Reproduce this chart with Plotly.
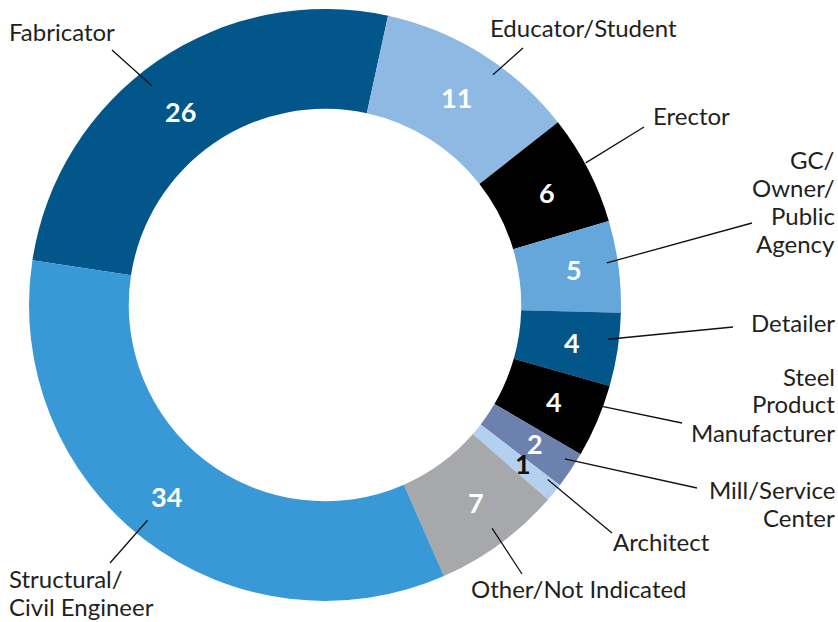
import math
import plotly.graph_objects as go

# ---- data ----
categories = ["Fabricator", "Educator/Student", "Erector", "GC/Owner/Public Agency",
              "Detailer", "Steel Product Manufacturer", "Mill/Service Center",
              "Architect", "Other/Not Indicated", "Structural/Civil Engineer"]
values = [26, 11, 6, 5, 4, 4, 2, 1, 7, 34]
label_lines = [["Fabricator"], ["Educator/Student"], ["Erector"],
               ["GC/", "Owner/", "Public", "Agency"], ["Detailer"],
               ["Steel", "Product", "Manufacturer"], ["Mill/Service", "Center"],
               ["Architect"], ["Other/Not Indicated"], ["Structural/", "Civil Engineer"]]

# ---- style ----
colors = ["#02568A", "#8DB9E3", "#000000", "#65A7DB", "#02568A", "#000000",
          "#6C81AE", "#B3D1EE", "#A7A8AB", "#3899D6"]
num_colors = ["white"] * 6 + ["white", "#111111", "white", "white"]
W, H = 838, 622
CX, CY, R = 325, 305, 296
HOLE = 0.663
ROT = -81.3  # degrees clockwise from 12 o'clock where the first slice starts
LINE_GAP = 28

# small manual nudges of the value labels (px)
num_nudge = [(-4, 11), (0, 3), (2, 1), (3, -3), (2, 0), (1, -1), (4, 0), (6, 1), (4, -2), (-7, -5)]
# leader-line start: radius (px) and angle offset from slice middle (deg)
line_start = [(279, -3.8), (285, 4.0), (297, -1.3), (285, -1.0), (285, -1.8), (295, -3.0),
              (285, -1.2), (283, -1.2), (279, -0.5), (279, 2.0)]
# label anchor (px, first-line middle), xanchor, and leader-line end (px)
label_pos = [(7, 31, "left"), (488, 28, "left"), (651, 115, "left"), (837, 159, "right"),
             (837, 322, "right"), (837, 376, "right"), (837, 489, "right"),
             (611, 541, "left"), (469, 588, "left"), (7, 578, "left")]
line_end = [(112, 50), (523, 48), (644, 127), (752, 223), (733, 327), (682, 423),
            (697, 488), (612, 533), (522, 574), (110, 563)]

FONT = "Lato, 'Open Sans', sans-serif"


def px2paper(x, y):
    return x / W, 1 - y / H


fig = go.Figure(go.Pie(
    labels=categories, values=values, hole=HOLE, sort=False,
    direction="clockwise", rotation=ROT,
    marker=dict(colors=colors, line=dict(width=0)),
    textinfo="none", hoverinfo="label+value", showlegend=False,
    domain=dict(x=[(CX - R) / W, (CX + R) / W],
                y=[(H - CY - R) / H, (H - CY + R) / H]),
))

total = sum(values)
annotations = []
shapes = []
cum = 0.0
for i, v in enumerate(values):
    mid = ROT + (cum + v / 2) / total * 360.0
    cum += v
    a = math.radians(mid)
    # value label at middle of ring
    rm = R * (1 + HOLE) / 2 + 2
    xm = CX + rm * math.sin(a) + num_nudge[i][0]
    ym = CY - rm * math.cos(a) + num_nudge[i][1]
    px, py = px2paper(xm, ym)
    annotations.append(dict(x=px, y=py, xref="paper", yref="paper", text=str(v),
                            showarrow=False, xanchor="center", yanchor="middle",
                            font=dict(family=FONT, size=27, color=num_colors[i], weight="bold")))
    # leader line
    rs, da = line_start[i]
    b = math.radians(mid + da)
    xs, ys = CX + rs * math.sin(b), CY - rs * math.cos(b)
    x0, y0 = px2paper(xs, ys)
    x1, y1 = px2paper(*line_end[i])
    shapes.append(dict(type="line", xref="paper", yref="paper", x0=x0, y0=y0, x1=x1, y1=y1,
                       line=dict(color="#111111", width=1.3)))
    lx, ly, anc = label_pos[i]
    for k, line in enumerate(label_lines[i]):
        lpx, lpy = px2paper(lx, ly + k * LINE_GAP)
        annotations.append(dict(x=lpx, y=lpy, xref="paper", yref="paper", text=line,
                                showarrow=False, xanchor=anc, yanchor="middle", align=anc,
                                font=dict(family=FONT, size=24, color="#231F20")))

fig.update_layout(width=W, height=H, margin=dict(l=0, r=0, t=0, b=0),
                  paper_bgcolor="white", plot_bgcolor="white",
                  annotations=annotations, shapes=shapes)
fig.write_html("out.html", config={"displayModeBar": False},
               post_script="document.body.style.margin='0px';")
